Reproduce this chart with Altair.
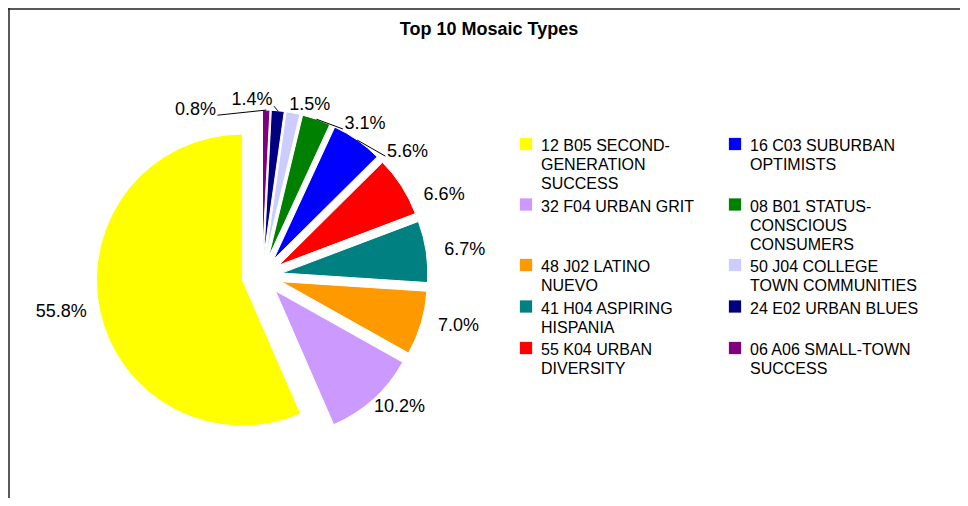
import altair as alt
import pandas as pd

# ---------------- data ----------------
title_text = "Top 10 Mosaic Types"
mosaic_types = [
    "12 B05 SECOND-\nGENERATION\nSUCCESS",
    "32 F04 URBAN GRIT",
    "48 J02 LATINO\nNUEVO",
    "41 H04 ASPIRING\nHISPANIA",
    "55 K04 URBAN\nDIVERSITY",
    "16 C03 SUBURBAN\nOPTIMISTS",
    "08 B01 STATUS-\nCONSCIOUS\nCONSUMERS",
    "50 J04 COLLEGE\nTOWN COMMUNITIES",
    "24 E02 URBAN BLUES",
    "06 A06 SMALL-TOWN\nSUCCESS",
]
shares = [55.8, 10.2, 7.0, 6.7, 6.6, 5.6, 3.1, 1.5, 1.4, 0.8]
palette = ["#FFFF00", "#CC99FF", "#FF9900", "#008080", "#FF0000",
           "#0000FF", "#008000", "#CCCCFF", "#000080", "#800080"]

df = pd.DataFrame({
    "type": mosaic_types,
    "share": shares,
    "idx": list(range(len(shares))),
    "lines": [s.count("\n") + 1 for s in mosaic_types],
})

# ---------------- layout constants ----------------
W, H = 952, 490
CX, CY = 254, 268
R = 146
EXPLODE = 20
RX, RY = 205, 176
LW, LHGT, RL = 52, 20, 185
FONT = "Liberation Sans"
LEG_LEFT, LEG_TOP, COLW, LINE_H, ROW_GAP = 518, 130, 209, 19, 3.5

color = alt.Color("type:N", scale=alt.Scale(domain=mosaic_types, range=palette), legend=None)
pie_order = [alt.SortField(field="idx", order="descending")]

# ---------------- pie ----------------
geo = (
    alt.Chart(df)
    .transform_joinaggregate(total="sum(share)")
    .transform_window(cumEnd="sum(share)", sort=pie_order, frame=[None, 0])
    .transform_calculate(
        a0="2*PI*(datum.cumEnd - datum.share)/datum.total",
        a1="2*PI*datum.cumEnd/datum.total",
    )
    .transform_calculate(mid="(datum.a0 + datum.a1)/2")
    .transform_calculate(
        cx=f"{CX} + {EXPLODE}*sin(datum.mid)",
        cy=f"{CY} - {EXPLODE}*cos(datum.mid)",
    )
    .transform_window(prevMid="lag(mid)", sort=pie_order)
    .transform_calculate(
        gap=f"isValid(datum.prevMid) ? min({LW}/(abs(cos((datum.mid+datum.prevMid)/2))+0.000001), "
            f"{LHGT}/(abs(sin((datum.mid+datum.prevMid)/2))+0.000001))/{RL} : 0"
    )
    .transform_window(G="sum(gap)", sort=pie_order, frame=[None, 0])
    .transform_calculate(fv="datum.mid - datum.G")
    .transform_window(fmax="max(fv)", sort=pie_order, frame=[None, 0])
    .transform_window(bmin="min(fv)", sort=pie_order, frame=[0, None])
    .transform_calculate(L="datum.G + 0.35*datum.fmax + 0.65*datum.bmin")
    .transform_calculate(
        lx=f"{CX} + {RX}*sin(datum.L)",
        ly=f"{CY} - {RY}*cos(datum.L)",
        label="format(datum.share, '.1f') + '%'",
        leader="abs(datum.L - datum.mid) > 0.14",
    )
    .transform_calculate(
        px1=f"datum.cx + {R}*sin(datum.mid)",
        py1=f"datum.cy - {R}*cos(datum.mid)",
        px2="datum.lx - 22*(sin(datum.L) < 0 ? -1 : 1)",
        py2="datum.ly + 6*cos(datum.L)",
    )
)

arcs = geo.mark_arc(outerRadius=R, stroke="white", strokeWidth=1).encode(
    x=alt.X("cx:Q", scale=None),
    y=alt.Y("cy:Q", scale=None),
    theta=alt.Theta("a0:Q", scale=None, stack=None),
    theta2="a1:Q",
    color=color,
)

labels = geo.mark_text(font=FONT, fontSize=18, color="black", align="center",
                       baseline="middle").encode(
    x=alt.X("lx:Q", scale=None),
    y=alt.Y("ly:Q", scale=None),
    text="label:N",
)

leaders = geo.transform_filter("datum.leader").mark_rule(color="black", strokeWidth=1).encode(
    x=alt.X("px1:Q", scale=None),
    y=alt.Y("py1:Q", scale=None),
    x2="px2:Q",
    y2="py2:Q",
)

# ---------------- legend (two columns, filled column by column) ----------------
leg = (
    alt.Chart(df)
    .transform_calculate(col="floor(datum.idx/5)", row="datum.idx % 5")
    .transform_joinaggregate(rowLines="max(lines)", groupby=["row"])
    .transform_calculate(c1="datum.col == 1 ? datum.rowLines : 0")
    .transform_window(cumC1="sum(c1)",
                      sort=[alt.SortField(field="row"), alt.SortField(field="col")],
                      frame=[None, 0])
    .transform_calculate(
        ty=f"{LEG_TOP} + {LINE_H}*(datum.cumC1 - datum.c1) + {ROW_GAP}*datum.row",
        sx=f"{LEG_LEFT} + {COLW}*datum.col",
    )
    .transform_calculate(tx="datum.sx + 15", sy="datum.ty + 6")
)

leg_sq = leg.mark_square(size=150, opacity=1).encode(
    x=alt.X("sx:Q", scale=None),
    y=alt.Y("sy:Q", scale=None),
    color=color,
)

leg_txt = leg.mark_text(font=FONT, fontSize=16, color="black", align="left",
                        baseline="top", lineBreak="\n", lineHeight=LINE_H).encode(
    x=alt.X("tx:Q", scale=None),
    y=alt.Y("ty:Q", scale=None),
    text="type:N",
)

# ---------------- title and frame ----------------
title = alt.Chart(pd.DataFrame({"t": [title_text]})).mark_text(
    font=FONT, fontSize=18, fontWeight="bold", color="black",
    align="center", baseline="alphabetic",
).encode(text="t:N", x=alt.value(481), y=alt.value(27))

one = pd.DataFrame({"a": [0]})
frame_left = alt.Chart(one).mark_rule(color="#222222", strokeWidth=1.5).encode(
    x=alt.value(1), y=alt.value(0), y2=alt.value(H))
frame_top = alt.Chart(one).mark_rule(color="#222222", strokeWidth=1.5).encode(
    x=alt.value(0), x2=alt.value(W), y=alt.value(1))

chart = (
    alt.layer(arcs, leaders, labels, leg_sq, leg_txt, title, frame_left, frame_top)
    .properties(width=W, height=H, padding=0,
                autosize=alt.AutoSizeParams(type="none"))
    .configure_view(strokeWidth=0)
)

chart.save("out.html", embed_options={"renderer": "svg", "actions": False})
